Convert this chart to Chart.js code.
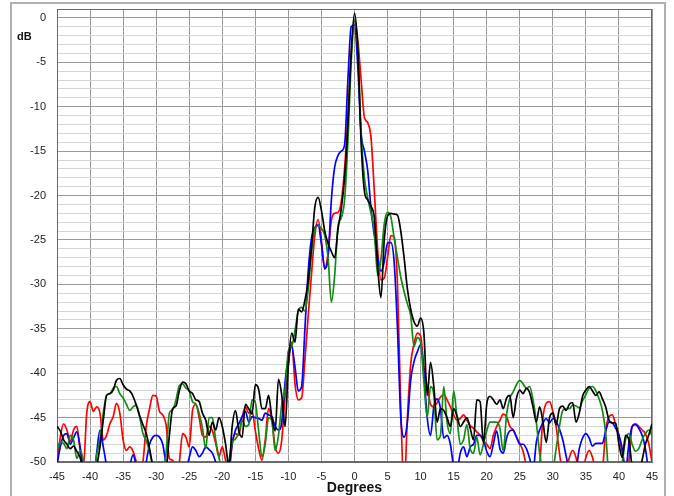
<!DOCTYPE html>
<html><head><meta charset="utf-8">
<script src="https://cdn.jsdelivr.net/npm/chart.js@4.4.1/dist/chart.umd.min.js"></script>
<style>
html,body{margin:0;padding:0;background:#fff;}
#wrap{position:relative;width:674px;height:496px;overflow:hidden;background:#fff;}
#frame{position:absolute;left:10px;top:2px;width:656px;height:510px;border:2px solid #b0b0b0;box-sizing:border-box;}
canvas{position:absolute;left:0;top:0;}
</style></head><body>
<div id="wrap"><div id="frame"></div><canvas id="c" width="674" height="496"></canvas></div>
<script>
const degrees = [
-45,-44.5,-44,-43.5,-43,-42.5,-42,-41.5,-41,-40.5,
-40,-39.5,-39,-38.5,-38,-37.5,-37,-36.5,-36,-35.5,
-35,-34.5,-34,-33.5,-33,-32.5,-32,-31.5,-31,-30.5,
-30,-29.5,-29,-28.5,-28,-27.5,-27,-26.5,-26,-25.5,
-25,-24.5,-24,-23.5,-23,-22.5,-22,-21.5,-21,-20.5,
-20,-19.5,-19,-18.5,-18,-17.5,-17,-16.5,-16,-15.5,
-15,-14.5,-14,-13.5,-13,-12.5,-12,-11.5,-11,-10.5,
-10,-9.5,-9,-8.5,-8,-7.5,-7,-6.5,-6,-5.5,
-5,-4.5,-4,-3.5,-3,-2.5,-2,-1.5,-1,-0.5,
0,0.5,1,1.5,2,2.5,3,3.5,4,4.5,
5,5.5,6,6.5,7,7.5,8,8.5,9,9.5,
10,10.5,11,11.5,12,12.5,13,13.5,14,14.5,
15,15.5,16,16.5,17,17.5,18,18.5,19,19.5,
20,20.5,21,21.5,22,22.5,23,23.5,24,24.5,
25,25.5,26,26.5,27,27.5,28,28.5,29,29.5,
30,30.5,31,31.5,32,32.5,33,33.5,34,34.5,
35,35.5,36,36.5,37,37.5,38,38.5,39,39.5,
40,40.5,41,41.5,42,42.5,43,43.5,44,44.5,
45];

const blackDb = [
-46.0,-46.5,-47.5,-48.0,-48.5,-48.2,-48.8,-49.5,-51,-52,
-53,-52,-50.5,-48.3,-45.3,-42.5,-42.3,-41.9,-40.8,-40.6,
-41.3,-41.8,-42.0,-42.6,-43.6,-44.8,-45.8,-46.8,-48.5,-50.5,
-52,-52,-52,-51,-47,-44.0,-43.7,-42.0,-41.0,-41.2,
-42.0,-42.3,-43.0,-43.2,-44.5,-45.3,-47.0,-45.5,-46.4,-45.0,
-46.0,-48.0,-50.5,-46.0,-44.2,-46.5,-47.2,-43.5,-44.0,-44.6,
-41.3,-41.8,-44.0,-44.0,-42.5,-45.0,-46.5,-40.7,-42.5,-46.0,
-39.0,-35.5,-36.5,-32.8,-33.1,-31.8,-29.6,-25.8,-21.3,-20.2,
-21.7,-24.0,-25.4,-26.3,-27.0,-23.8,-21.5,-18.0,-12,-4,
0.5,-3.5,-14,-19.5,-20.5,-21.2,-22.5,-28,-31.5,-25,
-22.3,-22.0,-22.1,-22.2,-24,-27,-30.5,-32.8,-34.2,-34.7,
-33.8,-35.5,-42.5,-38.8,-41.5,-45.5,-44.0,-44.2,-45.0,-46.0,
-44.0,-44.8,-46.0,-45.5,-45.0,-46.2,-47.5,-43.0,-43.2,-47.9,
-43.5,-42.6,-43.0,-43.5,-43.0,-44.0,-42.8,-42.5,-45.0,-42.8,
-41.9,-42.3,-41.7,-42.2,-43.8,-45.5,-43.8,-45.5,-47.8,-45.0,
-44.5,-45.8,-44.0,-43.7,-44.2,-43.5,-43.3,-45.5,-44.5,-42.6,
-41.9,-41.5,-42.0,-42.5,-42.1,-42.9,-43.8,-45.3,-45.6,-45.6,
-48,-49.5,-47,-47.5,-50.5,-51,-51,-49.8,-48,-47,
-45.7];

const redDb = [
-50.3,-47.2,-45.7,-46.4,-47.7,-46.4,-46.0,-48.7,-50.5,-44.5,
-43.2,-44.3,-43.8,-44.5,-47.5,-47.0,-45.7,-44.9,-43.4,-44.5,
-47.5,-48.7,-48.3,-48.8,-50,-51.5,-50,-46,-44,-42.5,
-42.6,-44.3,-44.7,-45.8,-49.6,-49.8,-51,-50,-46.8,-47.2,
-48.3,-44.2,-43.5,-45.0,-47.0,-47.2,-46.0,-46.5,-47.9,-49.4,
-48.3,-49.8,-51,-48,-46.8,-47.0,-45.0,-43.8,-44.5,-44.2,
-46.5,-48.5,-49.8,-47.5,-44.0,-45.3,-48.3,-49,-47.5,-42.5,
-39.0,-36.5,-41.2,-43.0,-42.8,-38.5,-33.5,-28.8,-24.5,-22.7,
-25.1,-28.3,-26.5,-22.8,-22.0,-21.9,-20.7,-17,-11,-4,
-0.3,-2.5,-7,-11.2,-11.8,-13.5,-19.5,-26,-29.5,-29.3,
-27,-24.5,-24.7,-30,-44,-53,-45,-39,-36.7,-35.5,
-35.8,-39.3,-41.5,-43.5,-43.8,-43.3,-42.7,-42.4,-43,-43.8,
-44.7,-45.3,-45.1,-44.7,-45.3,-45.9,-46.2,-46.6,-47.0,-47.6,
-48.0,-48.5,-47,-46,-45.3,-44.6,-44.9,-46,-46.4,-47.2,
-47.9,-48.8,-50.5,-52,-52,-52,-50.5,-45,-43.4,-43.2,
-44.3,-46,-49,-51,-51,-49.5,-48.7,-49.5,-51,-51,
-49.5,-48.7,-49.5,-51,-52,-51,-46.5,-44.9,-44.7,-45.8,
-47.0,-49,-51,-50,-46,-45.7,-46,-46.4,-46.8,-47.9,
-50];

const blueDb = [
-50.3,-48.3,-47.0,-46.8,-48.0,-47.3,-46.6,-48.3,-51,-53,
-53,-52,-49,-46.4,-48.3,-50.5,-53,-53,-53,-53,
-53,-52,-50.5,-49.2,-50.5,-52,-52,-50,-48,-47.2,
-47.0,-47.2,-48.0,-50.3,-52,-53,-53,-53,-52,-51,
-49.5,-48.3,-48.7,-49.4,-49,-48.3,-48.6,-49.0,-50,-51.5,
-52,-52,-51,-47.9,-46.4,-45.7,-44.9,-44.3,-45.5,-44.9,
-45.0,-45.1,-45.3,-44.5,-44.7,-44.9,-46.0,-46.4,-45.5,-41,
-38.2,-37.0,-39.3,-42,-41.5,-35,-28.5,-24.8,-23.6,-23.3,
-25.5,-28.2,-27.0,-20.5,-16.8,-15.5,-15.0,-14.3,-7,-1,
-0.8,-5.5,-13,-15,-17.2,-21.5,-24.5,-27,-28.5,-27.5,
-25.3,-25.3,-27.5,-35,-45,-47.2,-45.5,-40.8,-38.7,-37.6,
-36.8,-40,-45,-47,-43.8,-42.9,-44,-47.3,-47,-48,
-50.5,-51,-49,-48.3,-49.4,-48.3,-48,-47,-47,-47.5,
-48.8,-49.4,-48,-46.5,-48.5,-49,-47.3,-46.5,-46.4,-47.2,
-48,-48,-48.5,-49.6,-51,-47.8,-46.4,-45.6,-45.1,-45.6,
-45.1,-45.4,-46.3,-47.5,-49.3,-51,-52,-51,-48.5,-47.3,
-46.8,-47.3,-48.2,-47.9,-47.9,-47.9,-46.5,-45.5,-45.6,-46.2,
-47,-48.5,-51,-48,-46,-45.8,-46.2,-47,-48.5,-51,
-52];

const greenDb = [
-48.7,-47.7,-47.9,-48.5,-47.0,-47.5,-49.6,-48.7,-49.8,-52,
-53,-52,-49.2,-47.5,-44.5,-42.5,-42.3,-41.7,-41.5,-42.3,
-42.8,-43.5,-44.2,-43.8,-43.6,-44.9,-46.8,-47.6,-48.8,-50.5,
-51,-50,-51,-49,-44.5,-44.1,-43.0,-41.4,-41.2,-41.7,
-42.0,-43.2,-43.5,-44.5,-46.2,-48.5,-45.0,-45.0,-47.5,-49.5,
-51,-51.5,-49.8,-47.8,-47.4,-46.7,-45.3,-46.0,-45.8,-43.0,
-43.3,-46.5,-49.4,-48,-45,-45.3,-48.7,-47,-43.5,-42,
-37.5,-37.0,-35.2,-33.0,-32.6,-33.0,-30.5,-26.5,-23.8,-23.4,
-23.7,-24.5,-27.0,-32.0,-29.0,-23.5,-22.5,-20.5,-14,-5,
-0.2,-3.5,-13,-18,-20.3,-22,-24,-29,-27.2,-23.2,
-21.9,-22.4,-24.8,-27,-29.2,-30.8,-32.2,-33.5,-37,-36,
-36.5,-41,-45,-41.5,-42.5,-47.5,-47,-41.5,-45.5,-46.8,
-42,-45,-48,-47.5,-45.8,-48.5,-49,-47.2,-49.2,-48,
-46.5,-45.5,-45.5,-45.5,-46.2,-48.8,-44.7,-42.8,-42.1,-41.3,
-40.8,-41.2,-41.7,-41.5,-43.0,-45.5,-49,-51,-52,-52,
-51,-48.5,-46,-44.2,-44,-44,-43.6,-43.7,-43.9,-43.1,
-42.4,-41.7,-41.5,-42.0,-42.9,-44.2,-46.8,-52,-53,-53,
-52,-50,-47.5,-46.8,-48,-48.8,-48.5,-47.5,-46.8,-46.4,
-47.0];

const FONT = '"Liberation Sans", Arial, sans-serif';
Chart.defaults.font.family = FONT;

function series(label, vals, color) {
  return {
    label: label,
    data: degrees.map((d, i) => ({ x: d, y: vals[i] })),
    borderColor: color,
    borderWidth: 1.7,
    pointRadius: 0,
    fill: false,
    cubicInterpolationMode: 'monotone'
  };
}

const extras = {
  id: 'extras',
  beforeDatasetsDraw(chart) {
    const { ctx, chartArea: a } = chart;
    ctx.save();
    ctx.strokeStyle = '#6a6a6a';
    ctx.lineWidth = 1;
    ctx.strokeRect(Math.round(a.left) + 0.5, Math.round(a.top) + 0.5,
      Math.round(a.right - a.left) - 1, Math.round(a.bottom - a.top) - 1);
    ctx.restore();
  },
  afterDraw(chart) {
    const ctx = chart.ctx;
    ctx.save();
    ctx.font = 'bold 11px ' + FONT;
    ctx.fillStyle = '#111';
    ctx.textBaseline = 'alphabetic';
    ctx.textAlign = 'left';
    ctx.fillText('dB', 17, 40);
    ctx.restore();
  }
};

new Chart(document.getElementById('c'), {
  type: 'line',
  data: {
    datasets: [
      series('Black', blackDb, '#000000'),
      series('Green', greenDb, '#138a13'),
      series('Blue', blueDb, '#0000ff'),
      series('Red', redDb, '#ff0000')
    ]
  },
  options: {
    responsive: false,
    animation: false,
    devicePixelRatio: 1,
    layout: { padding: { left: 0, top: 9, right: 22, bottom: 0 } },
    plugins: { legend: { display: false }, tooltip: { enabled: false } },
    scales: {
      x: {
        type: 'linear', min: -45, max: 45,
        ticks: { stepSize: 5, autoSkip: false, maxRotation: 0, padding: 8, color: '#222', font: { size: 11 } },
        grid: { color: '#9a9a9a', drawTicks: false, lineWidth: 1 },
        border: { color: '#6a6a6a' },
        title: { display: true, text: 'Degrees', color: '#111', font: { size: 14, weight: 'bold' }, padding: { top: 0, bottom: -1 } },
        afterFit(s) { s.height = 34; s.paddingLeft = 0; s.paddingRight = 0; }
      },
      y: {
        min: -50, max: 1,
        ticks: {
          stepSize: 1, autoSkip: false, padding: 11, color: '#222', font: { size: 11 },
          callback: v => (v % 5 === 0 ? String(v) : '')
        },
        grid: {
          color: c => (c.tick && c.tick.value % 5 === 0 ? '#9a9a9a' : '#d6d6d6'),
          drawTicks: false, lineWidth: 1
        },
        border: { color: '#6a6a6a' },
        afterFit(s) { s.width = 57; s.paddingTop = 0; s.paddingBottom = 0; }
      }
    }
  },
  plugins: [extras]
});
</script>
</body></html>
